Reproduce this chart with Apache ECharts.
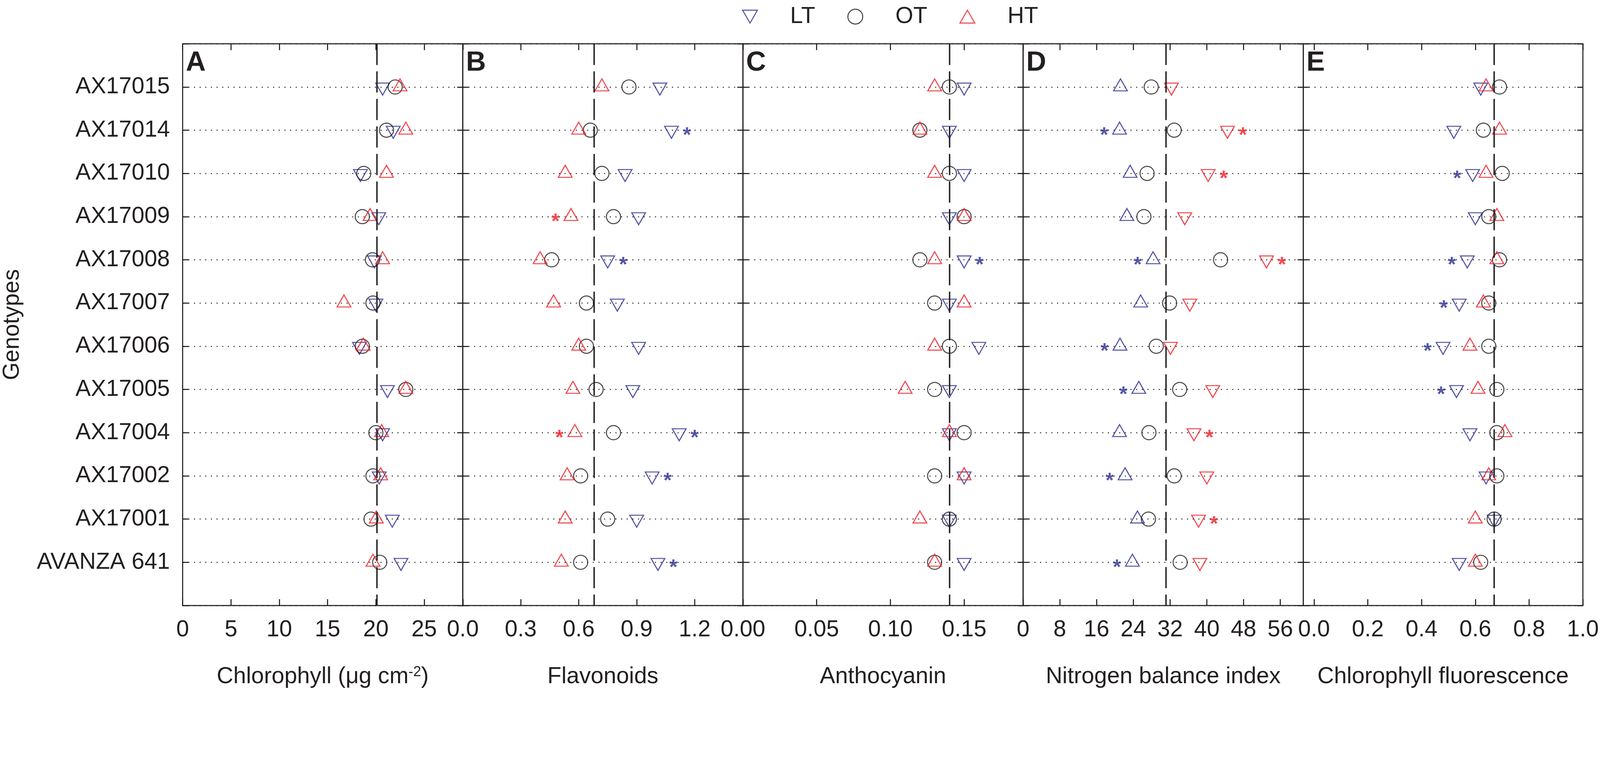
<!DOCTYPE html>
<html lang="en">
<head>
<meta charset="UTF-8">
<title>Leaf traits by genotype</title>
<style>
  html, body { margin: 0; padding: 0; background: #fff; overflow: hidden; }
  #chart { width: 100vw; height: 100vh; }
</style>
</head>
<body>
<div id="chart"></div>
<script src="https://cdn.jsdelivr.net/npm/echarts@6/dist/echarts.min.js"></script>
<script>
// ---- data ----
const genotypes = ['AX17015', 'AX17014', 'AX17010', 'AX17009', 'AX17008', 'AX17007',
                   'AX17006', 'AX17005', 'AX17004', 'AX17002', 'AX17001', 'AVANZA 641'];
const treatments = ['LT', 'OT', 'HT'];

// A: chlorophyll
const chlLT = [20.7, 21.8, 18.4, 20.3, 19.85, 20.0, 18.3, 21.2, 20.7, 20.35, 21.7, 22.6];
const chlOT = [22.0, 21.1, 18.75, 18.6, 19.65, 19.7, 18.6, 23.1, 20.0, 19.7, 19.5, 20.4];
const chlHT = [22.5, 23.1, 21.1, 19.4, 20.7, 16.7, 18.7, 23.1, 20.6, 20.5, 20.05, 19.7];
const chlLTSig = [0, 0, 0, 0, 0, 0, 0, 0, 0, 0, 0, 0];
const chlHTSig = [0, 0, 0, 0, 0, 0, 0, 0, 0, 0, 0, 0];

// B: flavonoids
const flaLT = [1.02, 1.08, 0.84, 0.91, 0.75, 0.80, 0.91, 0.88, 1.12, 0.98, 0.90, 1.01];
const flaOT = [0.86, 0.66, 0.72, 0.78, 0.46, 0.64, 0.64, 0.69, 0.78, 0.61, 0.75, 0.61];
const flaHT = [0.72, 0.60, 0.53, 0.56, 0.40, 0.47, 0.60, 0.57, 0.58, 0.54, 0.53, 0.51];
const flaLTSig = [0, 1, 0, 0, 1, 0, 0, 0, 1, 1, 0, 1];
const flaHTSig = [0, 0, 0, 1, 0, 0, 0, 0, 1, 0, 0, 0];

// C: anthocyanin
const antLT = [0.15, 0.14, 0.15, 0.14, 0.15, 0.14, 0.16, 0.14, 0.14, 0.15, 0.14, 0.15];
const antOT = [0.14, 0.12, 0.14, 0.15, 0.12, 0.13, 0.14, 0.13, 0.15, 0.13, 0.14, 0.13];
const antHT = [0.13, 0.12, 0.13, 0.15, 0.13, 0.15, 0.13, 0.11, 0.14, 0.15, 0.12, 0.13];
const antLTSig = [0, 0, 0, 0, 1, 0, 0, 0, 0, 0, 0, 0];
const antHTSig = [0, 0, 0, 0, 0, 0, 0, 0, 0, 0, 0, 0];

// D: nitrogen balance index
const nbiLT = [21.2, 21.0, 23.3, 22.6, 28.3, 25.6, 21.1, 25.2, 21.0, 22.2, 24.9, 23.8];
const nbiOT = [27.9, 32.9, 27.0, 26.3, 43.0, 31.9, 29.0, 34.1, 27.4, 32.9, 27.3, 34.2];
const nbiHT = [32.3, 44.5, 40.3, 35.2, 53.0, 36.3, 32.1, 41.3, 37.2, 40.0, 38.2, 38.5];
const nbiLTSig = [0, 1, 0, 0, 1, 0, 1, 1, 0, 1, 0, 1];
const nbiHTSig = [0, 1, 1, 0, 1, 0, 0, 0, 1, 0, 1, 0];

// E: chlorophyll fluorescence
const fluLT = [0.62, 0.52, 0.59, 0.60, 0.57, 0.54, 0.48, 0.53, 0.58, 0.64, 0.67, 0.54];
const fluOT = [0.69, 0.63, 0.70, 0.65, 0.69, 0.65, 0.65, 0.68, 0.68, 0.68, 0.67, 0.62];
const fluHT = [0.64, 0.69, 0.64, 0.68, 0.68, 0.63, 0.58, 0.61, 0.71, 0.65, 0.60, 0.60];
const fluLTSig = [0, 0, 1, 0, 1, 1, 1, 1, 0, 0, 0, 0];
const fluHTSig = [0, 0, 0, 0, 0, 0, 0, 0, 0, 0, 0, 0];

// dashed reference line of each panel
const refLines = [20.1, 0.684, 0.135, 31.1, 0.666];

// axis extents and ticks
const axisMin = [0, 0, 0, 0, -0.04];
const axisMax = [29, 1.45, 0.19, 61, 1.0];
const chlTicks = [0, 5, 10, 15, 20, 25];
const chlTickLabels = ['0', '5', '10', '15', '20', '25'];
const flaTicks = [0, 0.3, 0.6, 0.9, 1.2];
const flaTickLabels = ['0.0', '0.3', '0.6', '0.9', '1.2'];
const antTicks = [0, 0.05, 0.1, 0.15];
const antTickLabels = ['0.00', '0.05', '0.10', '0.15'];
const nbiTicks = [0, 8, 16, 24, 32, 40, 48, 56];
const nbiTickLabels = ['0', '8', '16', '24', '32', '40', '48', '56'];
const fluTicks = [0, 0.2, 0.4, 0.6, 0.8, 1.0];
const fluTickLabels = ['0.0', '0.2', '0.4', '0.6', '0.8', '1.0'];

const letters = ['A', 'B', 'C', 'D', 'E'];
const titles = ['Chlorophyll (μg cm{sup|-2})', 'Flavonoids', 'Anthocyanin',
                'Nitrogen balance index', 'Chlorophyll fluorescence'];

// ---- styling ----
const FONT = '"Liberation Sans", Arial, sans-serif';
const INK = '#231F20';
const BLUE = '#2B2E8F';
const RED = '#ED1C24';
const colors = { LT: BLUE, OT: INK, HT: RED };
const UP = 'path://M1,0L2,1.732L0,1.732Z';
const DOWN = 'path://M0,0L2,0L1,1.732Z';

const chartDom = document.getElementById('chart');
const chart = echarts.init(chartDom);
// layout is measured on a 4529 px wide figure, scale it to the real canvas
const s = chart.getWidth() / 4529;
const P = v => v * s;

const gridLeft = [517, 1310, 2103, 2896, 3689];
const gridTop = 124, gridW = 793, gridH = 1591;
const TRI = [P(39), P(34)];
const TRI_SHIFT = P(6);   // put the triangle centroid on the row

const panels = [
  { lt: chlLT, ot: chlOT, ht: chlHT, ltSig: chlLTSig, htSig: chlHTSig, ticks: chlTicks, tickLabels: chlTickLabels, flip: false },
  { lt: flaLT, ot: flaOT, ht: flaHT, ltSig: flaLTSig, htSig: flaHTSig, ticks: flaTicks, tickLabels: flaTickLabels, flip: false },
  { lt: antLT, ot: antOT, ht: antHT, ltSig: antLTSig, htSig: antHTSig, ticks: antTicks, tickLabels: antTickLabels, flip: false },
  { lt: nbiLT, ot: nbiOT, ht: nbiHT, ltSig: nbiLTSig, htSig: nbiHTSig, ticks: nbiTicks, tickLabels: nbiTickLabels, flip: true },
  { lt: fluLT, ot: fluOT, ht: fluHT, ltSig: fluLTSig, htSig: fluHTSig, ticks: fluTicks, tickLabels: fluTickLabels, flip: false }
];

function tickText(p, v) {
  let best = 0;
  p.ticks.forEach((t, i) => { if (Math.abs(t - v) < Math.abs(p.ticks[best] - v)) best = i; });
  return p.tickLabels[best];
}

const tickLine = { color: INK, width: P(3) };
const noLine = { show: false, onZero: false };
const grid = [], xAxis = [], yAxis = [], series = [];

panels.forEach((p, k) => {
  grid.push({
    left: P(gridLeft[k]), top: P(gridTop), width: P(gridW), height: P(gridH),
    show: true, borderColor: INK, borderWidth: P(3), backgroundColor: 'transparent'
  });

  // bottom axis with labels, top axis only for the inner ticks
  xAxis.push({
    gridIndex: k, type: 'value', position: 'bottom', min: axisMin[k], max: axisMax[k],
    name: titles[k], nameLocation: 'middle', nameGap: P(169),
    nameTextStyle: { fontSize: P(65), color: INK, fontFamily: FONT,
      rich: { sup: { fontSize: P(40), color: INK, fontFamily: FONT, verticalAlign: 'top' } } },
    axisLine: noLine,
    axisTick: { inside: true, length: P(18), lineStyle: tickLine, customValues: p.ticks },
    axisLabel: { margin: P(37), fontSize: P(65), color: INK, fontFamily: FONT,
      customValues: p.ticks, formatter: v => tickText(p, v) },
    splitLine: { show: false }
  });
  xAxis.push({
    gridIndex: k, type: 'value', position: 'top', min: axisMin[k], max: axisMax[k],
    axisLine: noLine,
    axisTick: { inside: true, length: P(18), lineStyle: tickLine, customValues: p.ticks },
    axisLabel: { show: false },
    splitLine: { show: false }
  });

  yAxis.push({
    gridIndex: k, type: 'value', position: 'left', inverse: true, min: -1, max: 12, interval: 1,
    name: k === 0 ? 'Genotypes' : '', nameLocation: 'middle', nameGap: P(449), nameRotate: 90,
    nameTextStyle: { fontSize: P(65), color: INK, fontFamily: FONT },
    axisLine: noLine,
    axisTick: { inside: true, length: P(16), lineStyle: tickLine },
    axisLabel: { show: k === 0, margin: P(36), fontSize: P(65), color: INK, fontFamily: FONT,
      formatter: v => genotypes[v] || '' },
    splitLine: { show: true, lineStyle: { color: INK, width: P(3), type: [P(3), P(13)] } }
  });
  yAxis.push({
    gridIndex: k, type: 'value', position: 'right', inverse: true, min: -1, max: 12, interval: 1,
    axisLine: noLine,
    axisTick: { inside: true, length: P(16), lineStyle: tickLine },
    axisLabel: { show: false },
    splitLine: { show: false }
  });

  treatments.forEach(t => {
    const vals = t === 'LT' ? p.lt : t === 'OT' ? p.ot : p.ht;
    const sig = t === 'LT' ? p.ltSig : t === 'HT' ? p.htSig : null;
    let symbol = 'circle', size = P(40), shift = 0;
    if (t !== 'OT') {
      const up = (t === 'HT') !== p.flip;
      symbol = up ? UP : DOWN;
      size = TRI;
      shift = up ? -TRI_SHIFT : TRI_SHIFT;
    }
    const s1 = {
      name: t, type: 'scatter', xAxisIndex: 2 * k, yAxisIndex: 2 * k,
      symbol: symbol, symbolSize: size, symbolOffset: [0, shift],
      itemStyle: { color: 'rgba(0,0,0,0)', borderColor: colors[t], borderWidth: P(3) },
      label: { show: false, formatter: '*', fontSize: P(60), fontWeight: 'bold', fontFamily: FONT,
        color: colors[t], distance: P(11), offset: [0, P(16) - shift] },
      emphasis: { disabled: true },
      data: vals.map((v, i) => {
        const item = { value: [v, i] };
        if (sig && sig[i]) item.label = { show: true, position: v > p.ot[i] ? 'right' : 'left' };
        return item;
      })
    };
    if (t === 'OT') {
      s1.markLine = {
        silent: true, symbol: 'none', label: { show: false },
        lineStyle: { color: INK, width: P(4), type: [P(60), P(18)] },
        data: [{ xAxis: refLines[k] }]
      };
    }
    series.push(s1);
  });
});

chart.setOption({
  animation: false,
  textStyle: { fontFamily: FONT, color: INK },
  title: letters.map((l, k) => ({
    text: l, left: P(gridLeft[k] + 9), top: P(139), padding: 0,
    textStyle: { fontSize: P(78), fontWeight: 'bold', color: INK, fontFamily: FONT }
  })),
  legend: {
    data: treatments, left: P(2095), top: P(9), itemWidth: P(42), itemHeight: P(42), itemGap: P(91),
    selectedMode: false,
    itemStyle: { borderWidth: P(3) },
    formatter: name => '{gap|}' + name,
    textStyle: { fontSize: P(65), color: INK, fontFamily: FONT,
      rich: { gap: { width: P(87) } } }
  },
  grid: grid,
  xAxis: xAxis,
  yAxis: yAxis,
  series: series
});
</script>
</body>
</html>
